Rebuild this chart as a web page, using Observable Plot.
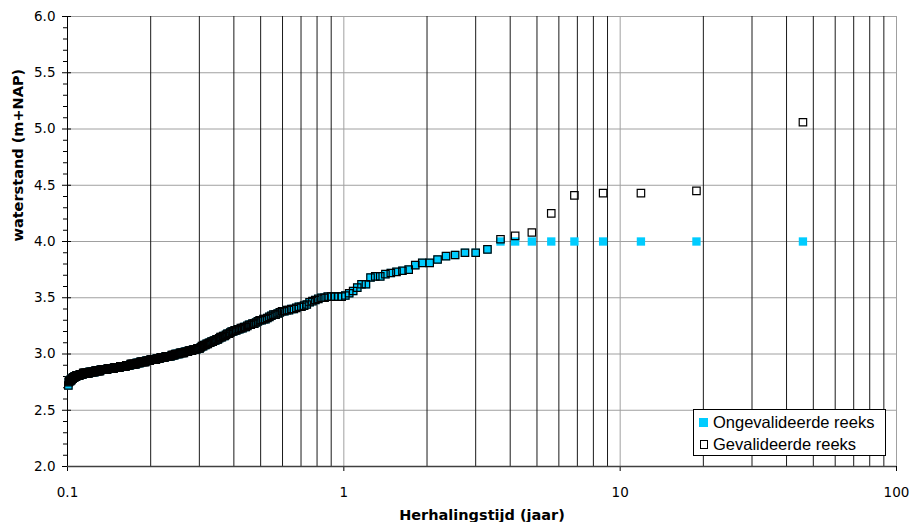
<!DOCTYPE html>
<html>
<head>
<meta charset="utf-8">
<script src="https://cdn.jsdelivr.net/npm/d3@7"></script>
<script src="https://cdn.jsdelivr.net/npm/@observablehq/plot@0.6"></script>
<style>
  body { margin: 0; background: #fff; }
  #chart { position: relative; width: 912px; height: 522px; }
  #legend {
    position: absolute; left: 693px; top: 409px; width: 193px; height: 47px;
    box-sizing: border-box; border: 1px solid #000; background: #fff;
    padding-top: 1.5px;
    font: 16.5px "Liberation Sans", Arial, sans-serif; color: #000;
  }
  #legend .row { display: flex; align-items: center; height: 22px; white-space: nowrap; }
  #legend .swatch { display: inline-block; box-sizing: border-box; margin-left: 5px; margin-right: 5px; }
  #legend .filled { width: 9px; height: 9px; background: #00CCFF; }
  #legend .hollow { width: 8.5px; height: 8.5px; border: 1.3px solid #000; margin-left: 5.5px; margin-right: 5px; }
</style>
</head>
<body>
<div id="chart">
  <div id="legend">
    <div class="row"><span class="swatch filled"></span>Ongevalideerde reeks</div>
    <div class="row"><span class="swatch hollow"></span>Gevalideerde reeks</div>
  </div>
</div>
<script>
// Waterstanden (m+NAP), aflopend gesorteerd, met het aantal keer dat elke waarde voorkomt
const niveaus = [
  4.00, 3.93, 3.90, 3.88, 3.87, 3.84, 3.81, 3.79, 3.75, 3.74, 3.73, 3.72, 3.71, 3.69, 3.68,
  3.62, 3.59, 3.56, 3.54, 3.52, 3.51, 3.50, 3.49, 3.48, 3.47, 3.46, 3.44, 3.43, 3.42, 3.41,
  3.40, 3.39, 3.38, 3.37, 3.36, 3.35, 3.34, 3.33, 3.32, 3.31, 3.30, 3.29, 3.28, 3.27, 3.26,
  3.25, 3.24, 3.23, 3.22, 3.21, 3.20, 3.19, 3.18, 3.17, 3.16, 3.15, 3.14, 3.13, 3.12, 3.11,
  3.10, 3.09, 3.08, 3.07, 3.06, 3.05, 3.04, 3.03, 3.02, 3.01, 3.00, 2.99, 2.98, 2.97, 2.96,
  2.95, 2.94, 2.93, 2.92, 2.91, 2.90, 2.89, 2.88, 2.87, 2.86, 2.85, 2.84, 2.83, 2.82, 2.81,
  2.80, 2.79, 2.78, 2.77, 2.76, 2.75, 2.72
];
const aantallen = [
  9, 1, 2, 1, 1, 1, 2, 1, 1, 1, 1, 1, 1, 2, 1,
  2, 1, 1, 1, 1, 5, 2, 1, 1, 1, 1, 1, 1, 2, 1,
  2, 2, 2, 1, 1, 2, 1, 1, 1, 2, 2, 1, 1, 2, 2,
  1, 2, 2, 2, 2, 2, 1, 2, 1, 2, 2, 1, 2, 2, 2,
  2, 2, 2, 2, 1, 3, 4, 4, 4, 5, 5, 4, 7, 6, 5,
  8, 6, 8, 6, 9, 7, 10, 11, 12, 14, 11, 13, 14, 8, 8,
  5, 4, 3, 3, 4, 1, 1
];
// Hoogste waarden van de gevalideerde reeks (de rest is gelijk aan de ongevalideerde reeks)
const gevalideerdTop = [5.06, 4.45, 4.43, 4.43, 4.41, 4.25, 4.08, 4.05, 4.02];
// Lengte van de reeks (jaar) voor de plotposities
const reeksJaren = 32.1;

// As-indeling
const xLabels = [0.1, 1, 10, 100];
const xMinor = [0.2, 0.3, 0.4, 0.5, 0.6, 0.7, 0.8, 0.9, 2, 3, 4, 5, 6, 7, 8, 9, 20, 30, 40, 50, 60, 70, 80, 90];
const yLabels = [2.0, 2.5, 3.0, 3.5, 4.0, 4.5, 5.0, 5.5, 6.0];
const yMinor = [2.1, 2.2, 2.3, 2.4, 2.6, 2.7, 2.8, 2.9, 3.1, 3.2, 3.3, 3.4, 3.6, 3.7, 3.8, 3.9,
  4.1, 4.2, 4.3, 4.4, 4.6, 4.7, 4.8, 4.9, 5.1, 5.2, 5.3, 5.4, 5.6, 5.7, 5.8, 5.9];

// Rangorde -> herhalingstijd (mediane rangpositie)
const ongevalideerd = niveaus.flatMap((v, i) => Array(aantallen[i]).fill(v))
  .map((h, i) => ({rang: i + 1, T: reeksJaren / (i + 1 - 0.3), h}));
const gevalideerd = ongevalideerd.map((d, i) => ({...d, h: i < gevalideerdTop.length ? gevalideerdTop[i] : d.h}));

const chart = Plot.plot({
  width: 912,
  height: 522,
  marginLeft: 67,
  marginRight: 16,
  marginTop: 16,
  marginBottom: 56,
  style: {fontFamily: "'DejaVu Sans', Verdana, sans-serif", fontSize: "13.5px", color: "#000", background: "#fff"},
  x: {type: "log", domain: [0.1, 100]},
  y: {domain: [2, 6]},
  marks: [
    Plot.ruleY(yLabels, {stroke: "#a0a0a0"}),
    Plot.ruleX(xMinor, {stroke: "#1a1a1a"}),
    Plot.ruleX(xLabels.slice(1), {stroke: "#a0a0a0"}),
    Plot.axisX({ticks: xLabels, tickSize: 5, tickPadding: 16, tickFormat: d => String(d), label: null}),
    Plot.axisY({ticks: yMinor, tickSize: 4, fill: "none", label: null}),
    Plot.axisY({ticks: yLabels, tickSize: 9, dx: 4, fill: "none", label: null}),
    Plot.axisY({ticks: yLabels, tickSize: 0, tickPadding: 12, stroke: "none", tickFormat: d3.format(".1f"), label: null}),
    Plot.ruleX([0.1], {stroke: "#000"}),
    Plot.ruleY([2], {stroke: "#404040", strokeWidth: 1.5}),
    Plot.dot(ongevalideerd, {x: "T", y: "h", symbol: "square", r: 4.7, fill: "#00CCFF", stroke: "none"}),
    Plot.dot(gevalideerd, {x: "T", y: "h", symbol: "square", r: 4.2, fill: "none", stroke: "#000", strokeWidth: 1.2}),
    Plot.text(["waterstand (m+NAP)"], {frameAnchor: "left", dx: -49, rotate: -90, fontWeight: "bold", fontSize: 14.5}),
    Plot.text(["Herhalingstijd (jaar)"], {frameAnchor: "bottom", dy: 53, fontWeight: "bold", fontSize: 14.5})
  ]
});

document.getElementById("chart").prepend(chart);
</script>
</body>
</html>
